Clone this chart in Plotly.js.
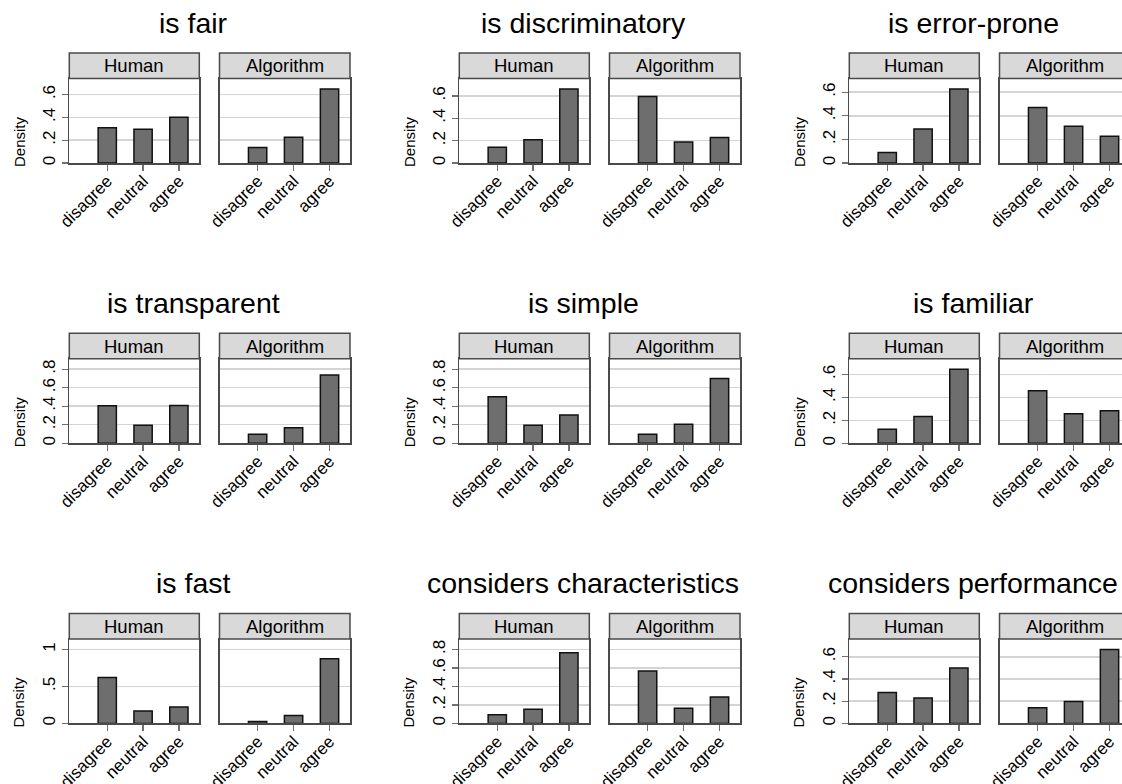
<!DOCTYPE html>
<html>
<head>
<meta charset="utf-8">
<script src="https://cdn.plot.ly/plotly-3.0.1.min.js"></script>
<style>
  html, body { margin: 0; padding: 0; background: #fff; overflow: hidden; }
  #chart { width: 1140px; height: 784px; }
</style>
</head>
<body>
<div id="chart"></div>
<script>
// ---------- data ----------
const categories = ['disagree', 'neutral', 'agree'];
const groups = ['Human', 'Algorithm'];
const titles = ['is fair', 'is discriminatory', 'is error-prone',
                'is transparent', 'is simple', 'is familiar',
                'is fast', 'considers characteristics', 'considers performance'];

const fairHuman = [0.310, 0.296, 0.401];
const fairAlgorithm = [0.135, 0.225, 0.650];
const discriminatoryHuman = [0.140, 0.209, 0.663];
const discriminatoryAlgorithm = [0.594, 0.188, 0.227];
const errorProneHuman = [0.088, 0.289, 0.628];
const errorProneAlgorithm = [0.470, 0.311, 0.226];
const transparentHuman = [0.404, 0.193, 0.407];
const transparentAlgorithm = [0.098, 0.167, 0.738];
const simpleHuman = [0.502, 0.193, 0.305];
const simpleAlgorithm = [0.098, 0.204, 0.698];
const familiarHuman = [0.123, 0.234, 0.647];
const familiarAlgorithm = [0.459, 0.258, 0.284];
const fastHuman = [0.622, 0.167, 0.221];
const fastAlgorithm = [0.027, 0.108, 0.874];
const characteristicsHuman = [0.094, 0.152, 0.764];
const characteristicsAlgorithm = [0.568, 0.163, 0.286];
const performanceHuman = [0.279, 0.228, 0.498];
const performanceAlgorithm = [0.141, 0.198, 0.666];

const ticksA = [0, 0.2, 0.4, 0.6];
const tickLabelsA = ['0', '.2', '.4', '.6'];
const ticksB = [0, 0.2, 0.4, 0.6, 0.8];
const tickLabelsB = ['0', '.2', '.4', '.6', '.8'];
const ticksC = [0, 0.5, 1];
const tickLabelsC = ['0', '.5', '1'];

const yLabel = 'Density';

// ---------- assembly ----------
const panelValues = [
  [fairHuman, fairAlgorithm],
  [discriminatoryHuman, discriminatoryAlgorithm],
  [errorProneHuman, errorProneAlgorithm],
  [transparentHuman, transparentAlgorithm],
  [simpleHuman, simpleAlgorithm],
  [familiarHuman, familiarAlgorithm],
  [fastHuman, fastAlgorithm],
  [characteristicsHuman, characteristicsAlgorithm],
  [performanceHuman, performanceAlgorithm]
];
const panelTicks = [
  [ticksA, tickLabelsA], [ticksA, tickLabelsA], [ticksA, tickLabelsA],
  [ticksB, tickLabelsB], [ticksB, tickLabelsB], [ticksA, tickLabelsA],
  [ticksC, tickLabelsC], [ticksB, tickLabelsB], [ticksA, tickLabelsA]
];

const W = 1140, H = 784;
const px = x => x / W;
const py = y => 1 - y / H;
const FONT = 'Liberation Sans, Arial, Helvetica, sans-serif';
const xPos = categories.map((_, i) => i);

const data = [];
const layout = {
  width: W, height: H,
  margin: {l: 0, r: 0, t: 0, b: 0},
  paper_bgcolor: '#ffffff',
  plot_bgcolor: '#ffffff',
  showlegend: false,
  font: {family: FONT, color: '#000'},
  shapes: [],
  annotations: []
};

for (let i = 0; i < 9; i++) {
  const r = Math.floor(i / 3), c = i % 3;
  const headerTop = 53 + 280.3 * r;
  const plotTop = 78.5 + 280.3 * r;
  const plotBottom = 163 + 280.2 * r;
  const [tv, tt] = panelTicks[i];
  const dataMax = Math.max(...panelValues[i][0], ...panelValues[i][1]);
  const yTop = 1.14 * Math.max(dataMax, tv[tv.length - 1]);
  const lefts = [69.3 + 390 * c, 219.5 + 390 * c];
  const rights = [199.3 + 390 * c, 350 + 390 * c];

  for (let g = 0; g < 2; g++) {
    const k = 2 * i + g + 1;
    data.push({
      type: 'bar',
      x: xPos,
      y: panelValues[i][g],
      width: 0.51,
      marker: {color: '#6e6e6e', line: {color: '#111111', width: 1.5}},
      xaxis: 'x' + k,
      yaxis: 'y' + k,
      hoverinfo: 'skip'
    });
    layout['xaxis' + k] = {
      domain: [px(lefts[g]), px(rights[g])],
      anchor: 'y' + k,
      range: [-1.06, 2.57],
      tickmode: 'array',
      tickvals: xPos,
      ticktext: categories,
      tickangle: -45,
      ticks: 'outside', ticklen: 6, tickwidth: 1.3, tickcolor: '#707070',
      ticklabelstandoff: -6,
      tickfont: {family: FONT, size: 17, color: '#000'},
      showline: true, linecolor: '#4a4a4a', linewidth: 1.5, mirror: true,
      showgrid: false, zeroline: false, fixedrange: true
    };
    layout['yaxis' + k] = {
      domain: [py(plotBottom), py(plotTop)],
      anchor: 'x' + k,
      range: [0, yTop],
      tickmode: 'array',
      tickvals: tv,
      ticktext: tt,
      tickangle: -90,
      showticklabels: g === 0,
      ticks: g === 0 ? 'outside' : '',
      ticklen: 6, tickwidth: 1.3, tickcolor: '#707070',
      tickfont: {family: FONT, size: 17, color: '#000'},
      showgrid: true, gridcolor: '#d4d4d4', gridwidth: 1.5,
      showline: true, linecolor: '#4a4a4a', linewidth: 1.5, mirror: true,
      zeroline: false, fixedrange: true
    };
    layout.shapes.push({
      type: 'rect', xref: 'paper', yref: 'paper',
      x0: px(lefts[g]), x1: px(rights[g]),
      y0: py(plotTop), y1: py(headerTop),
      fillcolor: '#d9d9d9',
      line: {color: '#4a4a4a', width: 1.5}
    });
    layout.annotations.push({
      xref: 'paper', yref: 'paper',
      x: px((lefts[g] + rights[g]) / 2), y: py((headerTop + plotTop) / 2),
      xanchor: 'center', yanchor: 'middle',
      text: groups[g], showarrow: false,
      font: {family: FONT, size: 18.5, color: '#000'}
    });
  }
  // panel title
  layout.annotations.push({
    xref: 'paper', yref: 'paper',
    x: px(193 + 390 * c), y: py(22.5 + 280.3 * r),
    xanchor: 'center', yanchor: 'middle',
    text: titles[i], showarrow: false,
    font: {family: FONT, size: 28.5, color: '#000'}
  });
  // y label
  layout.annotations.push({
    xref: 'paper', yref: 'paper',
    x: px(19 + 390 * c), y: py(142 + 280.3 * r),
    xanchor: 'center', yanchor: 'middle',
    text: yLabel, textangle: -90, showarrow: false,
    font: {family: FONT, size: 15, color: '#000'}
  });
}

Plotly.newPlot('chart', data, layout, {staticPlot: true, displayModeBar: false});
</script>
</body>
</html>
